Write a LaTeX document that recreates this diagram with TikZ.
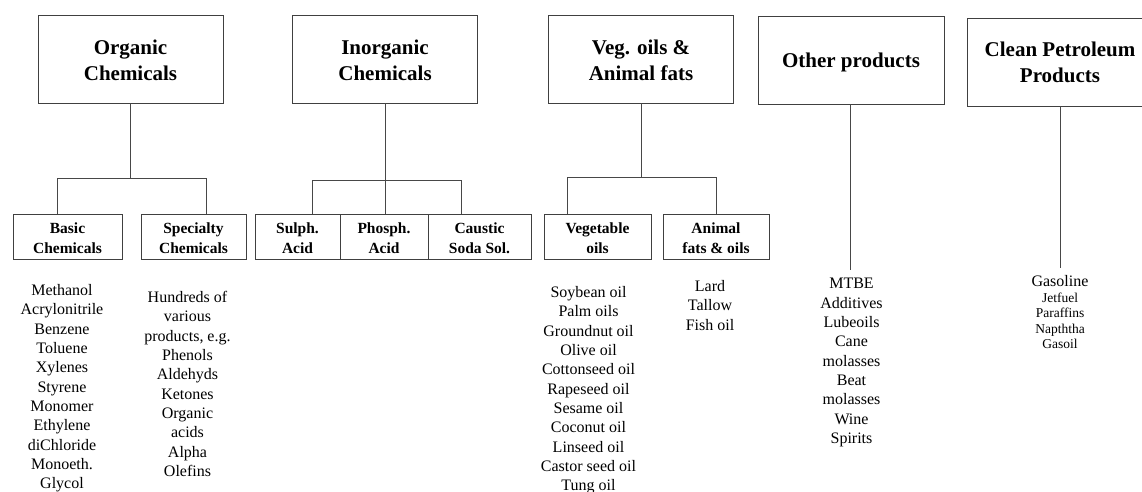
\documentclass[tikz,border=0pt]{standalone}
\usepackage{fontspec}
\setmainfont{Liberation Serif}
\begin{document}
\begin{tikzpicture}[x=1pt,y=-1pt,
  line/.style={draw=black!72, line width=0.9pt},
  topbox/.style={draw=black!75, line width=0.9pt, minimum width=185pt,
    minimum height=88pt, align=center, inner sep=0pt,
    font=\fontsize{21}{26}\selectfont\bfseries},
  subbox/.style={draw=black!75, line width=0.9pt, minimum height=45pt,
    align=center, inner sep=0pt, font=\fontsize{15.5}{19.5}\selectfont\bfseries},
  items/.style={align=center, anchor=north, inner sep=0pt,
    font=\fontsize{16}{19.35}\selectfont},
  smallitems/.style={align=center, anchor=north, inner sep=0pt,
    font=\fontsize{13.5}{15.5}\selectfont},
]
\useasboundingbox (0,0) rectangle (1142,492);

% main product groups (box outline and text placed separately)
\node[topbox] (org) at (130.5,59) {};
\node[font=\fontsize{21}{26}\selectfont\bfseries, align=center] at (130.5,60.5) {Organic\\Chemicals};
\node[topbox] (inorg) at (385,59) {};
\node[font=\fontsize{21}{26}\selectfont\bfseries, align=center] at (385,60.5) {Inorganic\\Chemicals};
\node[topbox] (veg) at (641,59) {};
\node[font=\fontsize{21}{26}\selectfont\bfseries, align=center] at (641,60.5) {Veg. oils \&\\Animal fats};
\node[topbox, minimum width=186pt] (oth) at (851,60) {};
\node[font=\fontsize{21}{26}\selectfont\bfseries, align=center] at (851,62.5) {Other products};
\node[topbox, minimum width=186pt] (clean) at (1060,62) {Clean Petroleum\\Products};

% sub-groups
\node[subbox, minimum width=109pt] (basic) at (67.5,236.5) {};
\node[subbox, minimum width=105pt] (spec) at (193.5,236.5) {};
\node[subbox, minimum width=85pt] (sulph) at (297.5,236.5) {};
\node[subbox, minimum width=88pt] (phos) at (384,236.5) {};
\node[subbox, minimum width=103pt] (caus) at (479.5,236.5) {};
\node[subbox, minimum width=107pt] (vego) at (597.5,236.5) {};
\node[subbox, minimum width=106pt] (anim) at (716,236.5) {};
\foreach \n/\t in {basic/{Basic\\Chemicals}, spec/{Specialty\\Chemicals},
    sulph/{Sulph.\\Acid}, phos/{Phosph.\\Acid}, caus/{Caustic\\Soda Sol.},
    vego/{Vegetable\\oils}, anim/{Animal\\fats \& oils}}
  \node[align=center, inner sep=0pt, font=\fontsize{15.5}{19.5}\selectfont\bfseries]
    at ([yshift=-1.5pt]\n.center) {\t};

% branch points
\coordinate (orgL) at (57,178);
\coordinate (orgR) at (206,178);
\coordinate (inL) at (312,180);
\coordinate (inR) at (461,180);
\coordinate (vegL) at (567,177);
\coordinate (vegR) at (716,177);
\coordinate (othE) at (850,270);
\coordinate (cleanE) at (1060,268);

% connectors
\draw[line] (org.south) -- (org.south |- orgL);
\draw[line] (basic.north -| orgL) -- (orgL) -- (orgR) -- (orgR |- spec.north);
\draw[line] (inorg.south) -- (inorg.south |- inL);
\draw[line] (sulph.north -| inL) -- (inL) -- (inR) -- (inR |- caus.north);
\draw[line] (inorg.south |- inL) -- (inorg.south |- phos.north);
\draw[line] (veg.south) -- (veg.south |- vegL);
\draw[line] (vego.north -| vegL) -- (vegL) -- (vegR) -- (anim.north);
\draw[line] (oth.south -| othE) -- (othE);
\draw[line] (clean.south) -- (cleanE);

% product lists
\node[items] (basicL) at (62,284) {Methanol\\Acrylonitrile\\Benzene\\Toluene\\Xylenes\\Styrene\\Monomer\\Ethylene\\diChloride\\Monoeth.\\Glycol};
\node[items] (specL) at (187.5,291) {Hundreds of\\various\\products, e.g.\\Phenols\\Aldehyds\\Ketones\\Organic\\acids\\Alpha\\Olefins};
\node[items] (vegL2) at (588.5,286) {Soybean oil\\Palm oils\\Groundnut oil\\Olive oil\\Cottonseed oil\\Rapeseed oil\\Sesame oil\\Coconut oil\\Linseed oil\\Castor seed oil\\Tung oil};
\node[items] (animL) at (710,280) {Lard\\Tallow\\Fish oil};
\node[items] (othL) at (851.5,278) {MTBE\\Additives\\Lubeoils\\Cane\\molasses\\Beat\\molasses\\Wine\\Spirits};
\node[items] (cleanA) at (1060,275) {Gasoline};
\node[smallitems] (cleanB) at (1060,292.5) {Jetfuel\\Paraffins\\Napththa\\Gasoil};
\end{tikzpicture}
\end{document}
